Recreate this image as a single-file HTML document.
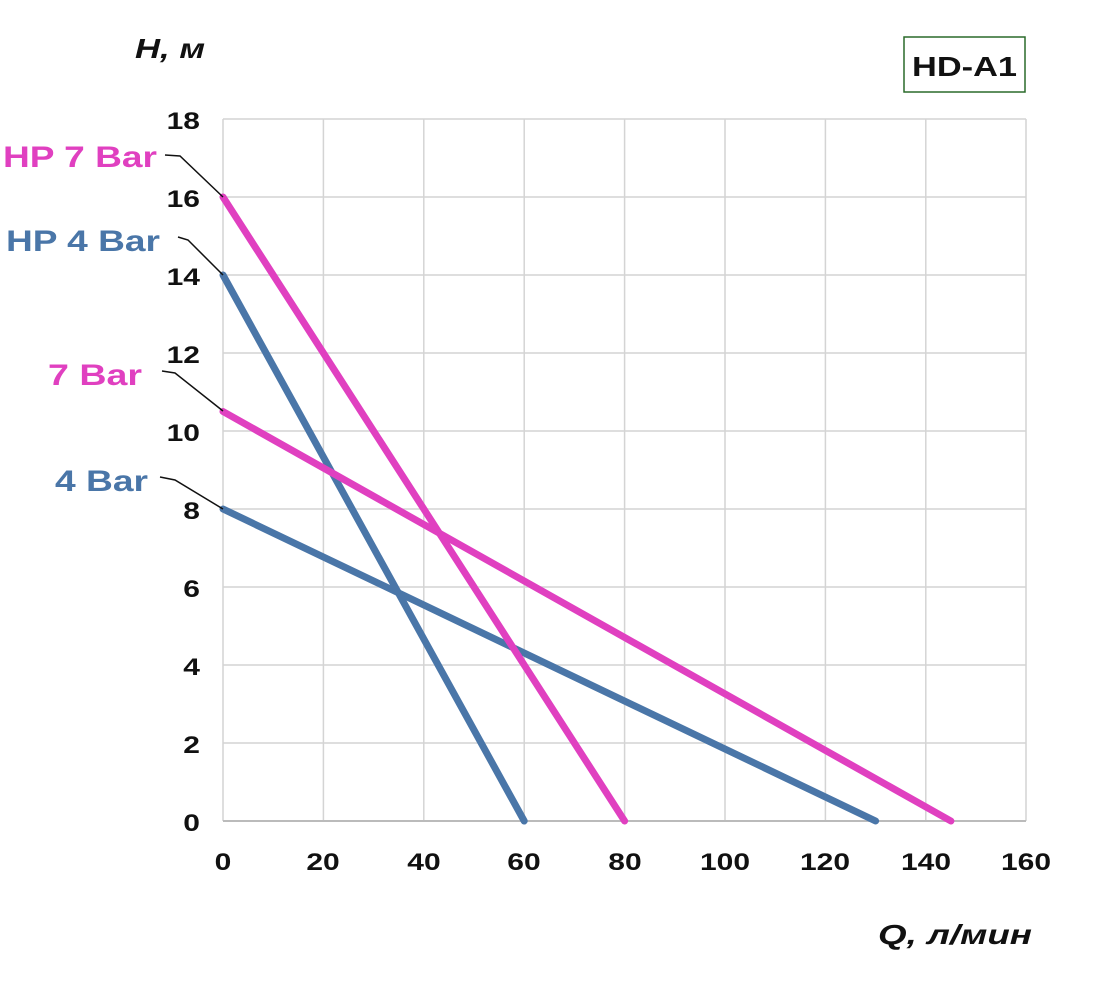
<!DOCTYPE html>
<html><head><meta charset="utf-8"><style>
body{margin:0;background:#fff;}
svg text{font-family:"Liberation Sans",sans-serif;font-weight:bold;}
</style></head><body>
<svg width="1093" height="1000" xmlns="http://www.w3.org/2000/svg">
<g stroke="#d4d4d4" stroke-width="1.5">
<line x1="223" y1="119" x2="223" y2="821"/><line x1="323.4" y1="119" x2="323.4" y2="821"/><line x1="423.8" y1="119" x2="423.8" y2="821"/><line x1="524.2" y1="119" x2="524.2" y2="821"/><line x1="624.6" y1="119" x2="624.6" y2="821"/><line x1="725" y1="119" x2="725" y2="821"/><line x1="825.4" y1="119" x2="825.4" y2="821"/><line x1="925.8" y1="119" x2="925.8" y2="821"/><line x1="1026" y1="119" x2="1026" y2="821"/>
<line x1="223" y1="119" x2="1026" y2="119"/><line x1="223" y1="197" x2="1026" y2="197"/><line x1="223" y1="275" x2="1026" y2="275"/><line x1="223" y1="353" x2="1026" y2="353"/><line x1="223" y1="431" x2="1026" y2="431"/><line x1="223" y1="509" x2="1026" y2="509"/><line x1="223" y1="587" x2="1026" y2="587"/><line x1="223" y1="665" x2="1026" y2="665"/><line x1="223" y1="743" x2="1026" y2="743"/>
</g>
<line x1="223" y1="821" x2="1026" y2="821" stroke="#bbb" stroke-width="2"/>
<g font-size="24" fill="#111" text-anchor="end" transform="scale(1.25,1)">
<text x="160" y="129">18</text><text x="160" y="207">16</text><text x="160" y="285">14</text><text x="160" y="363">12</text><text x="160" y="441">10</text><text x="160" y="519">8</text><text x="160" y="597">6</text><text x="160" y="675">4</text><text x="160" y="753">2</text><text x="160" y="831">0</text>
</g>
<g font-size="24" fill="#111" text-anchor="middle">
<text x="223" y="870" transform="translate(223,0) scale(1.25,1) translate(-223,0)">0</text>
<text x="323" y="870" transform="translate(323,0) scale(1.25,1) translate(-323,0)">20</text>
<text x="424" y="870" transform="translate(424,0) scale(1.25,1) translate(-424,0)">40</text>
<text x="524" y="870" transform="translate(524,0) scale(1.25,1) translate(-524,0)">60</text>
<text x="625" y="870" transform="translate(625,0) scale(1.25,1) translate(-625,0)">80</text>
<text x="725" y="870" transform="translate(725,0) scale(1.25,1) translate(-725,0)">100</text>
<text x="825" y="870" transform="translate(825,0) scale(1.25,1) translate(-825,0)">120</text>
<text x="926" y="870" transform="translate(926,0) scale(1.25,1) translate(-926,0)">140</text>
<text x="1026" y="870" transform="translate(1026,0) scale(1.25,1) translate(-1026,0)">160</text>
</g>
<g stroke-width="7" stroke-linecap="round">
<line x1="223" y1="509" x2="875.6" y2="821" stroke="#4a76a8"/>
<line x1="223" y1="275" x2="524.2" y2="821" stroke="#4a76a8"/>
<line x1="223" y1="411.5" x2="950.9" y2="821" stroke="#e040c0"/>
<line x1="223" y1="197" x2="624.6" y2="821" stroke="#e040c0"/>
</g>
<g stroke="#111" stroke-width="1.5" fill="none">
<polyline points="165,155 180,156 223,197"/>
<polyline points="178,237 188,240 223,275"/>
<polyline points="162,371 175,373 223,411"/>
<polyline points="160,477 175,480 223,509"/>
</g>
<g font-size="30">
<text x="3" y="167" fill="#e040c0" textLength="154" lengthAdjust="spacingAndGlyphs">HP 7 Bar</text>
<text x="6" y="251" fill="#4a76a8" textLength="154" lengthAdjust="spacingAndGlyphs">HP 4 Bar</text>
<text x="48" y="385" fill="#e040c0" textLength="94" lengthAdjust="spacingAndGlyphs">7 Bar</text>
<text x="55" y="491" fill="#4a76a8" textLength="93" lengthAdjust="spacingAndGlyphs">4 Bar</text>
</g>
<text x="135" y="58" font-size="28" font-style="italic" fill="#111" textLength="70" lengthAdjust="spacingAndGlyphs">H, м</text>
<text x="878" y="944" font-size="28" font-style="italic" fill="#111" textLength="154" lengthAdjust="spacingAndGlyphs">Q, л/мин</text>
<rect x="904" y="37" width="121" height="55" fill="none" stroke="#2a6a2a" stroke-width="1.5"/>
<text x="912" y="76" font-size="28" fill="#111" textLength="105" lengthAdjust="spacingAndGlyphs">HD-A1</text>
</svg>
</body></html>
